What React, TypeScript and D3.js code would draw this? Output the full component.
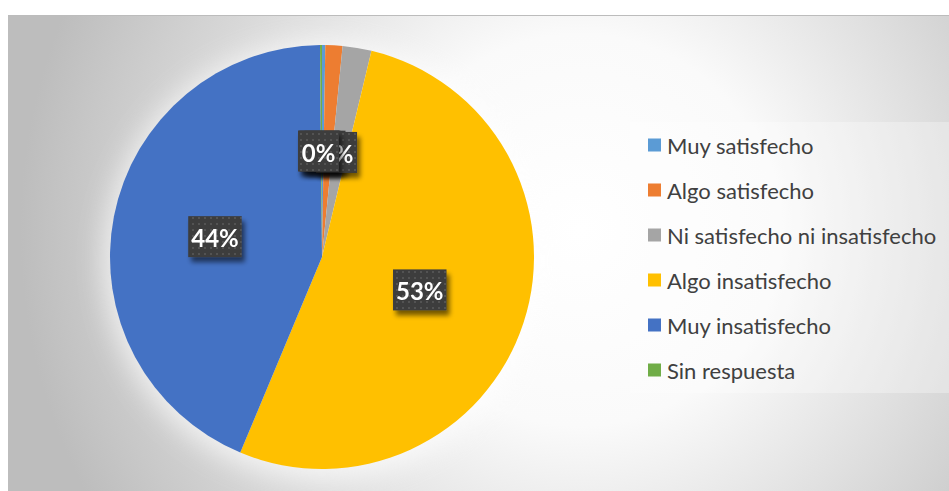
import React from "react";
import * as d3 from "d3";

const categories = [
  "Muy satisfecho",
  "Algo satisfecho",
  "Ni satisfecho ni insatisfecho",
  "Algo insatisfecho",
  "Muy insatisfecho",
  "Sin respuesta",
];
const values = [0.25, 1.3, 2.2, 52.55, 43.55, 0.15];
const colors = ["#5B9BD5", "#ED7D31", "#A5A5A5", "#FFC000", "#4472C4", "#70AD47"];

export default function App() {
  const W = 949;
  const H = 491;
  const cx = 322;
  const cy = 257;
  const R = 212;
  const total = d3.sum(values);
  const arcs = d3.pie<number>().sort(null).value((d) => d)(values);
  const arc = d3.arc<d3.PieArcDatum<number>>().innerRadius(0).outerRadius(R);
  const labelArc = d3.arc<d3.PieArcDatum<number>>().innerRadius(R * 0.5).outerRadius(R * 0.5);
  const fmt = (v: number) => Math.round((v / total) * 100) + "%";
  const font = "Lato, 'Open Sans', sans-serif";

  const legendX = 648;
  const legendY0 = 145;
  const legendStep = 45;

  return (
    <svg
      width={W}
      height={H}
      style={{ position: "absolute", left: 0, top: 0 }}
      xmlns="http://www.w3.org/2000/svg"
    >
      <defs>
        <radialGradient id="bg" gradientUnits="userSpaceOnUse" cx={580} cy={230} r={560}>
          <stop offset="0" stopColor="#ffffff" />
          <stop offset="0.35" stopColor="#fafafa" />
          <stop offset="1" stopColor="#bdbdbd" />
        </radialGradient>
        <filter id="glow" x="-30%" y="-30%" width="160%" height="160%">
          <feGaussianBlur stdDeviation="14" />
        </filter>
        <pattern id="dots" width="6" height="6" patternUnits="userSpaceOnUse">
          <rect width="6" height="6" fill="#3c3c3c" />
          <rect x="2" y="2" width="2" height="2" fill="#525252" />
        </pattern>
        <filter id="shadow" x="-30%" y="-30%" width="160%" height="170%">
          <feGaussianBlur in="SourceAlpha" stdDeviation="2.5" />
          <feOffset dx="3" dy="5" result="b" />
          <feComponentTransfer>
            <feFuncA type="linear" slope="0.55" />
          </feComponentTransfer>
          <feMerge>
            <feMergeNode />
            <feMergeNode in="SourceGraphic" />
          </feMerge>
        </filter>
      </defs>

      <rect x={0} y={0} width={W} height={H} fill="#ffffff" />
      <rect x={8} y={15} width={W - 8} height={H - 15} fill="url(#bg)" />
      <line x1={8} x2={W} y1={15.5} y2={15.5} stroke="#bcbcbc" strokeWidth={1} />

      <circle cx={cx} cy={cy + 4} r={R + 6} fill="#ffffff" opacity={0.7} filter="url(#glow)" />

      <g transform={`translate(${cx},${cy})`}>
        {arcs.map((a, i) => (
          <path key={categories[i]} d={arc(a) || ""} fill={colors[i]} />
        ))}
        {arcs.map((a, i) => {
          const [lx0, ly] = labelArc.centroid(a);
          const lx = lx0 - 3;
          const txt = fmt(values[i]);
          const w = 16 + 12.5 * txt.length;
          const h = 41;
          return (
            <g key={"l" + i} filter="url(#shadow)">
              <rect x={lx - w / 2} y={ly - h / 2} width={w} height={h} fill="url(#dots)" />
              <text
                x={lx}
                y={ly + 1}
                textAnchor="middle"
                dominantBaseline="central"
                fill="#ffffff"
                fontFamily={font}
                fontWeight="bold"
                fontSize={24}
              >
                {txt}
              </text>
            </g>
          );
        })}
      </g>

      <rect x={630} y={122} width={W - 630} height={271} fill="#ffffff" opacity={0.3} />
      {categories.map((c, i) => (
        <g key={"lg" + i} transform={`translate(${legendX},${legendY0 + i * legendStep})`}>
          <rect x={0} y={-6.5} width={13} height={13} fill={colors[i]} />
          <text
            x={19}
            y={0}
            dominantBaseline="central"
            fill="#404040"
            fontFamily={font}
            fontSize={22}
          >
            {c}
          </text>
        </g>
      ))}
    </svg>
  );
}
